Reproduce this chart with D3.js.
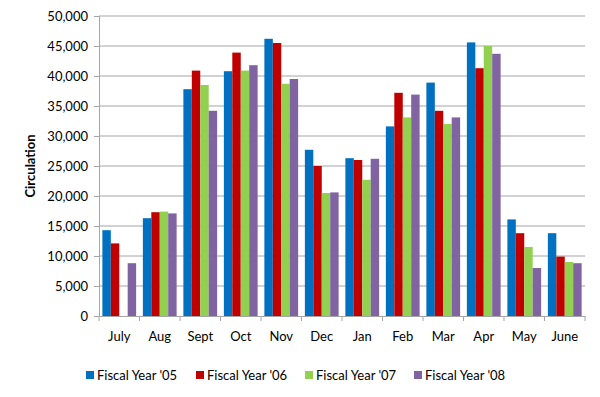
<!DOCTYPE html>
<html>
<head>
<meta charset="utf-8">
<script src="https://cdn.jsdelivr.net/npm/d3@7"></script>
<style>
  body { margin: 0; background: #fff; }
  svg text { font-family: Lato, "Open Sans", sans-serif; fill: #000; }
</style>
</head>
<body>
<div id="chart"></div>
<script>
const months = ["July", "Aug", "Sept", "Oct", "Nov", "Dec", "Jan", "Feb", "Mar", "Apr", "May", "June"];
const seriesNames = ["Fiscal Year '05", "Fiscal Year '06", "Fiscal Year '07", "Fiscal Year '08"];
const fy05 = [14300, 16300, 37800, 40800, 46200, 27700, 26300, 31600, 38900, 45600, 16100, 13800];
const fy06 = [12100, 17300, 40900, 43900, 45500, 25000, 26000, 37200, 34200, 41300, 13800, 9900];
const fy07 = [0, 17400, 38500, 40900, 38700, 20500, 22700, 33100, 32000, 45000, 11500, 9000];
const fy08 = [8800, 17100, 34200, 41800, 39500, 20600, 26200, 36900, 33100, 43700, 8000, 8800];
const yTicks = [0, 5000, 10000, 15000, 20000, 25000, 30000, 35000, 40000, 45000, 50000];
const colors = ["#0070C0", "#C00000", "#92D050", "#8064A2"];

const WIDTH = 600, HEIGHT = 397;
const margin = {left: 99, right: 15, top: 16, bottom: 81};
const plotW = WIDTH - margin.left - margin.right;
const plotH = HEIGHT - margin.top - margin.bottom;

const seriesData = [fy05, fy06, fy07, fy08];

const svg = d3.select("#chart").append("svg")
    .attr("width", WIDTH)
    .attr("height", HEIGHT);

const g = svg.append("g")
    .attr("transform", `translate(${margin.left},${margin.top})`);

const x0 = d3.scaleBand().domain(months).range([0, plotW]).paddingInner(0).paddingOuter(0);
const x1 = d3.scaleBand().domain(d3.range(seriesNames.length)).range([0, x0.bandwidth()]).paddingInner(0).paddingOuter(0.4);
const y = d3.scaleLinear().domain([0, 50000]).range([plotH, 0]);

// gridlines
g.selectAll(".grid")
    .data(yTicks.slice(1))
    .join("line")
    .attr("x1", 0).attr("x2", plotW)
    .attr("y1", d => y(d)).attr("y2", d => y(d))
    .attr("stroke", "#A6A6A6").attr("stroke-width", 1.2);

// y axis
const yAxis = g.append("g")
    .call(d3.axisLeft(y).tickValues(yTicks).tickSize(5).tickPadding(6).tickFormat(d3.format(",")));
yAxis.select(".domain").attr("stroke", "#A6A6A6");
yAxis.selectAll(".tick line").attr("stroke", "#A6A6A6");
yAxis.selectAll("text").style("font-size", "13px");

// bars
const groups = g.selectAll(".month")
    .data(months)
    .join("g")
    .attr("transform", d => `translate(${x0(d)},0)`);

groups.selectAll("rect")
    .data((m, i) => seriesData.map((s, k) => ({k: k, v: s[i]})))
    .join("rect")
    .attr("x", d => x1(d.k))
    .attr("width", x1.bandwidth())
    .attr("y", d => y(d.v))
    .attr("height", d => plotH - y(d.v))
    .attr("fill", d => colors[d.k]);

// x axis
const xAxis = g.append("g")
    .attr("transform", `translate(0,${plotH})`)
    .call(d3.axisBottom(x0).tickSize(0).tickPadding(16));
xAxis.select(".domain").attr("stroke", "#A6A6A6").attr("stroke-width", 1.2);
xAxis.selectAll("text").style("font-size", "13px");
g.append("g")
    .selectAll("line")
    .data(months.concat(["end"]))
    .join("line")
    .attr("x1", (d, i) => i * x0.step())
    .attr("x2", (d, i) => i * x0.step())
    .attr("y1", plotH).attr("y2", plotH + 5)
    .attr("stroke", "#A6A6A6");

// y axis title
svg.append("text")
    .attr("transform", `translate(35,${margin.top + plotH / 2}) rotate(-90)`)
    .attr("text-anchor", "middle")
    .style("font-size", "13px")
    .style("font-weight", "bold")
    .text("Circulation");

// legend
const legendX = [86, 196, 305, 414];
const legend = svg.append("g")
    .selectAll("g")
    .data(seriesNames)
    .join("g")
    .attr("transform", (d, i) => `translate(${legendX[i]},375)`);
legend.append("rect")
    .attr("x", 0).attr("y", -4)
    .attr("width", 8).attr("height", 8)
    .attr("fill", (d, i) => colors[i]);
legend.append("text")
    .attr("x", 11).attr("y", 0)
    .attr("dy", "0.35em")
    .style("font-size", "13px")
    .text(d => d);
</script>
</body>
</html>
